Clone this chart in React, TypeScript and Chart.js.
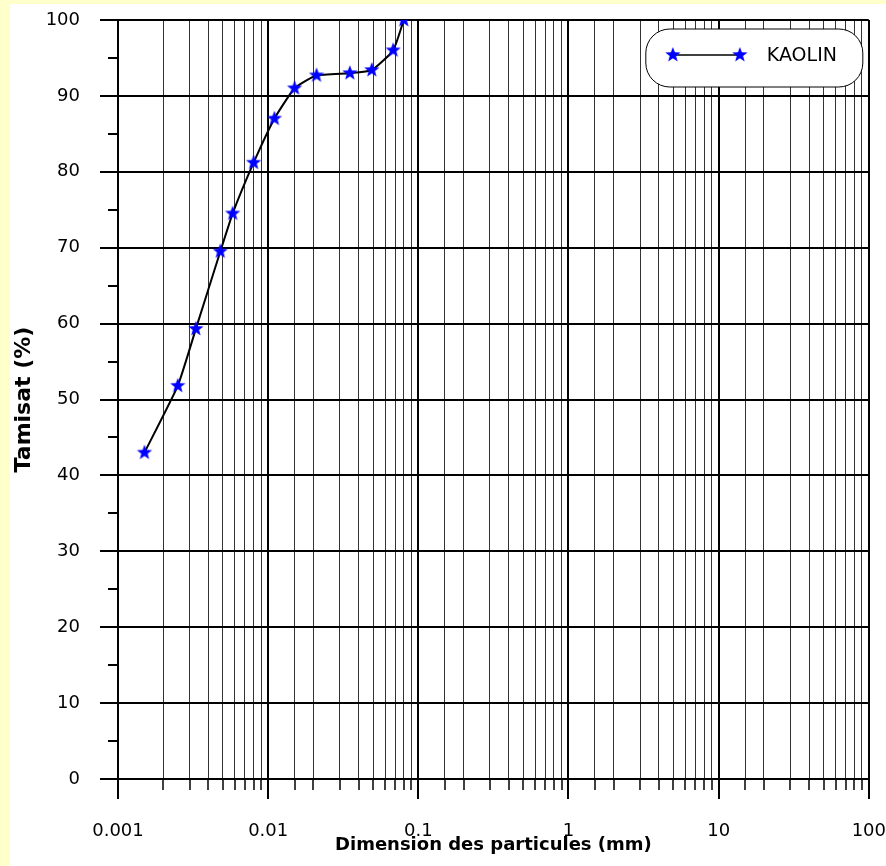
import { useEffect, useRef } from 'react';
import { Chart, registerables } from 'chart.js';

Chart.register(...registerables);

// ---- data ----
const seriesLabel = 'KAOLIN';
const particleSizes = [0.0015, 0.0025, 0.0033, 0.0048, 0.0058, 0.008, 0.011, 0.015, 0.021, 0.035, 0.049, 0.068, 0.08];
const passingPercent = [43, 51.8, 59.3, 69.5, 74.5, 81.2, 87, 91, 92.7, 93, 93.4, 96, 100];
const xTickLabels = ['0.001', '0.01', '0.1', '1', '10', '100'];
const xMin = 0.001;
const xMax = 100;
const yMin = 0;
const yMax = 100;
const xTitle = 'Dimension des particules (mm)';
const yTitle = 'Tamisat (%)';

const FONT = "'DejaVu Sans', 'Liberation Sans', Arial, sans-serif";

function makeStar(rOuter: number, color: string): HTMLCanvasElement {
  const size = Math.ceil(rOuter * 2 + 4);
  const c = document.createElement('canvas');
  c.width = size;
  c.height = size;
  const g = c.getContext('2d')!;
  const cx = size / 2;
  const cy = size / 2;
  const rInner = rOuter * 0.42;
  g.beginPath();
  for (let i = 0; i < 10; i++) {
    const r = i % 2 === 0 ? rOuter : rInner;
    const a = -Math.PI / 2 + (i * Math.PI) / 5;
    const px = cx + r * Math.cos(a);
    const py = cy + r * Math.sin(a);
    if (i === 0) g.moveTo(px, py);
    else g.lineTo(px, py);
  }
  g.closePath();
  g.fillStyle = color;
  g.fill();
  return c;
}

const isMajorX = (v: number) => Math.abs(Math.log10(v) - Math.round(Math.log10(v))) < 1e-6;

export default function App() {
  const ref = useRef<HTMLCanvasElement>(null);

  useEffect(() => {
    document.body.style.margin = '0';
    const canvas = ref.current!;
    const star = makeStar(8, '#0000FF');

    const bgPlugin = {
      id: 'bgPlugin',
      beforeDraw(chart: any) {
        const ctx = chart.ctx;
        ctx.save();
        ctx.fillStyle = '#FFFFCC';
        ctx.fillRect(0, 0, chart.width, chart.height);
        ctx.fillStyle = '#FFFFFF';
        ctx.fillRect(10, 4, chart.width - 10, chart.height - 4);
        ctx.restore();
      },
    };

    const tickMarksPlugin = {
      id: 'tickMarksPlugin',
      afterDraw(chart: any) {
        const ctx = chart.ctx;
        const xs = chart.scales.x;
        const ys = chart.scales.y;
        ctx.save();
        ctx.strokeStyle = '#000';
        xs.ticks.forEach((t: any) => {
          const major = isMajorX(t.value);
          const px = Math.round(xs.getPixelForValue(t.value));
          ctx.lineWidth = major ? 2 : 1.5;
          ctx.beginPath();
          ctx.moveTo(px, ys.bottom);
          ctx.lineTo(px, ys.bottom + (major ? 20 : 11));
          ctx.stroke();
        });
        ys.ticks.forEach((t: any) => {
          const major = Math.round(t.value) % 10 === 0;
          const py = Math.round(ys.getPixelForValue(t.value));
          ctx.lineWidth = 2;
          ctx.beginPath();
          ctx.moveTo(xs.left - (major ? 18 : 10), py);
          ctx.lineTo(xs.left, py);
          ctx.stroke();
        });
        ctx.restore();
      },
    };

    const legendPlugin = {
      id: 'pillLegend',
      afterDatasetsDraw(chart: any) {
        const ctx = chart.ctx;
        const area = chart.chartArea;
        const boxRight = area.right - 6;
        const boxLeft = boxRight - 217;
        const boxTop = area.top + 9;
        const boxH = 58;
        ctx.save();
        ctx.beginPath();
        ctx.roundRect(boxLeft, boxTop, boxRight - boxLeft, boxH, 24);
        ctx.fillStyle = '#FFFFFF';
        ctx.fill();
        ctx.lineWidth = 1;
        ctx.strokeStyle = '#000';
        ctx.stroke();
        const cy = boxTop + 26;
        const x1 = boxLeft + 27;
        const x2 = boxLeft + 94;
        ctx.beginPath();
        ctx.moveTo(x1, cy);
        ctx.lineTo(x2, cy);
        ctx.lineWidth = 1.5;
        ctx.stroke();
        ctx.drawImage(star, x1 - star.width / 2, cy - star.height / 2);
        ctx.drawImage(star, x2 - star.width / 2, cy - star.height / 2);
        ctx.fillStyle = '#000';
        ctx.font = `19px ${FONT}`;
        ctx.textBaseline = 'middle';
        ctx.textAlign = 'left';
        ctx.fillText(chart.data.datasets[0].label, boxLeft + 121, cy + 1);
        ctx.restore();
      },
    };

    const chart = new Chart(canvas, {
      type: 'line',
      data: {
        datasets: [
          {
            label: seriesLabel,
            data: particleSizes.map((x, i) => ({ x, y: passingPercent[i] })),
            borderColor: '#000000',
            borderWidth: 2,
            pointStyle: star as any,
            pointRadius: 8,
            pointBackgroundColor: '#0000FF',
            tension: 0.15,
            fill: false,
          },
        ],
      },
      options: {
        responsive: false,
        animation: false,
        devicePixelRatio: 1,
        layout: { padding: { top: 20, right: 17, bottom: 0, left: 0 } },
        plugins: {
          legend: { display: false },
          tooltip: { enabled: false },
        },
        scales: {
          x: {
            type: 'logarithmic',
            min: xMin,
            max: xMax,
            afterFit(s: any) {
              s.height = 87;
            },
            border: { display: true, color: '#000', width: 2 },
            grid: {
              drawTicks: true,
              tickLength: 42,
              tickColor: 'rgba(0,0,0,0)',
              color: (c: any) => (c.tick && isMajorX(c.tick.value) ? '#000' : 'rgba(0,0,0,0.8)'),
              lineWidth: (c: any) => (c.tick && isMajorX(c.tick.value) ? 2 : 1),
            },
            ticks: {
              autoSkip: false,
              maxRotation: 0,
              minRotation: 0,
              padding: 0,
              color: '#000',
              font: { family: FONT, size: 18 },
              callback: (v: any) => {
                const n = Number(v);
                if (!isMajorX(n)) return '';
                return xTickLabels[Math.round(Math.log10(n)) + 3];
              },
            },
            title: {
              display: true,
              text: xTitle,
              color: '#000',
              font: { family: FONT, size: 18, weight: 'bold' },
              padding: { top: 0, bottom: 10 },
            },
          },
          y: {
            min: yMin,
            max: yMax,
            afterFit(s: any) {
              s.width = 118;
            },
            border: { display: true, color: '#000', width: 2 },
            grid: {
              drawTicks: true,
              tickLength: 38,
              tickColor: 'rgba(0,0,0,0)',
              color: (c: any) => (c.tick && Math.round(c.tick.value) % 10 === 0 ? '#000' : 'rgba(0,0,0,0)'),
              lineWidth: 2,
            },
            ticks: {
              stepSize: 5,
              autoSkip: false,
              padding: 0,
              color: '#000',
              font: { family: FONT, size: 18 },
              callback: (v: any) => (Math.round(Number(v)) % 10 === 0 ? String(v) : ''),
            },
            title: {
              display: true,
              text: yTitle,
              color: '#000',
              font: { family: FONT, size: 22, weight: 'bold' },
              padding: { top: 11, bottom: 0 },
            },
          },
        },
      } as any,
      plugins: [bgPlugin, tickMarksPlugin, legendPlugin],
    });

    return () => chart.destroy();
  }, []);

  return (
    <canvas
      ref={ref}
      width={886}
      height={866}
      style={{ display: 'block', width: 886, height: 866 }}
    />
  );
}
